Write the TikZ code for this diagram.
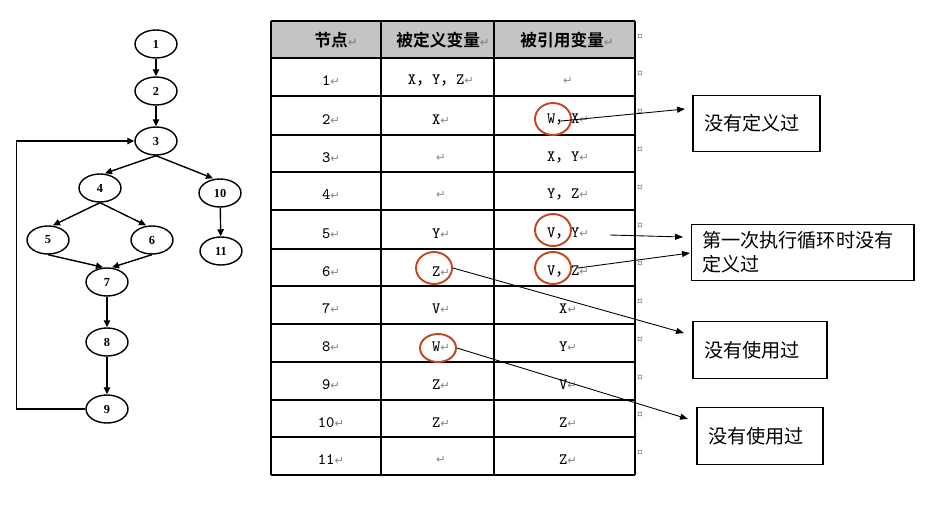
\documentclass[tikz,border=0pt]{standalone}
\usepackage{fontspec}
\setmainfont{Liberation Serif}
\newfontfamily\cjk{Noto Sans CJK SC}[BoldFont={Noto Sans CJK SC Bold}]
\newfontfamily\sym{DejaVu Sans}
\usetikzlibrary{shapes.geometric, arrows.meta, positioning}
\definecolor{markred}{HTML}{C4461E}
\definecolor{retgray}{HTML}{8A8A8A}
\definecolor{hdrgray}{HTML}{C4C4C4}
\newcommand{\parmark}{{\sym\fontsize{6.5}{8}\selectfont\textcolor{retgray}{↵}}}
\newcommand{\cm}{{\cjk ，}}
\tikzset{
  gnode/.style={ellipse, draw, line width=0.8pt, minimum width=0.84cm,
                minimum height=0.56cm, inner sep=0pt,
                font=\fontsize{7}{8}\selectfont\bfseries},
  edgeline/.style={line width=0.8pt, -{Triangle[length=4pt,width=3.6pt]}},
  grid/.style={line width=0.8pt},
  cell/.style={inner sep=0pt, font=\fontsize{9}{10}\selectfont\ttfamily},
  hcell/.style={inner sep=0pt, font=\fontsize{9.5}{11}\selectfont\cjk\bfseries},
  rowmark/.style={inner sep=0pt, text=retgray, font=\sym\fontsize{5.5}{6}\selectfont},
  marker/.style={ellipse, draw=markred, line width=1.1pt, minimum width=0.72cm,
                 minimum height=0.64cm, inner sep=0pt},
  notebox/.style={draw, line width=0.6pt, align=left, inner xsep=0.22cm,
                  minimum height=1.13cm, font=\fontsize{10.9}{13.6}\selectfont\cjk},
  callout/.style={line width=0.5pt, -{Triangle[length=4.5pt,width=3.4pt]}}
}
\begin{document}
\begin{tikzpicture}[x=0.02cm, y=-0.02cm]
  \useasboundingbox (0,0) rectangle (927,511);
  % flow graph
  \node[gnode] (g1) at (156,44) {1};
  \node[gnode] (g2) at (156,91) {2};
  \node[gnode] (g3) at (156,141) {3};
  \node[gnode] (g4) at (100,188) {4};
  \node[gnode] (g10) at (220,193) {10};
  \node[gnode] (g5) at (48,240) {5};
  \node[gnode] (g6) at (152,240) {6};
  \node[gnode] (g11) at (221,251) {11};
  \node[gnode] (g7) at (107,282) {7};
  \node[gnode] (g8) at (107,342) {8};
  \node[gnode] (g9) at (107,409) {9};
  \draw[edgeline] (g1) -- (g2);
  \draw[edgeline] (g2) -- (g3);
  \draw[edgeline] (g3.south) -- ([xshift=0.1cm]g4.north);
  \draw[edgeline] (g3.south) -- ([xshift=-0.14cm]g10.north);
  \draw[edgeline] (g4.south) -- ([xshift=0.1cm]g5.north);
  \draw[edgeline] (g4.south) -- ([xshift=-0.12cm]g6.north);
  \draw[edgeline] (g10) -- (g11);
  \draw[edgeline] (g5.south) -- ([xshift=-0.08cm]g7.north);
  \draw[edgeline] (g6.south) -- ([xshift=0.1cm]g7.north);
  \draw[edgeline] (g7) -- (g8);
  \draw[edgeline] (g8) -- (g9);
  \draw[edgeline] (g9.west) -- ++(-69,0) |- (g3.west);

  % def/use table
  \fill[hdrgray] (271,21) rectangle (635,58);
  \foreach \y in {21,58,96,135,172,210,249,286,324,362,400,437,475}
    \draw[grid] (271,\y) -- (635,\y);
  \foreach \x in {271,381,494,635}
    \draw[grid] (\x,21) -- (\x,475);
  \node[hcell] (h1) at (336,40) {节点\parmark};
  \node[hcell] (h2) at (443,40) {被定义变量\parmark};
  \node[hcell] (h3) at (567,40) {被引用变量\parmark};
  \foreach \rw/\yy/\dv/\uv in {1/81/{X\cm Y\cm Z}/{}, 2/120/X/{W\cm X},
      3/158/{}/{X\cm Y}, 4/195/{}/{Y\cm Z}, 5/234/Y/{V\cm Y}, 6/272/Z/{V\cm Z},
      7/309/V/X, 8/347/W/Y, 9/385/Z/V, 10/423/Z/Z, 11/460/{}/Z}
  {
    \node[cell] (n\rw) at (331,\yy) {\rw\parmark};
    \node[cell] (d\rw) at (441,\yy) {\dv\parmark};
    \node[cell] (u\rw) at (568,\yy) {\uv\parmark};
  }
  \foreach \y [count=\i] in {37,74,112,150,188,226,264,302,340,378,415,453}
    \node[rowmark] (m\i) at (640,\y) {¤};

  % red marks
  \node[marker] (c1) at (553,119) {};
  \node[marker] (c2) at (553,230) {};
  \node[marker] (c3) at (434,268) {};
  \node[marker] (c4) at (553,268) {};
  \node[marker, minimum height=0.56cm] (c5) at (438,348) {};

  % notes
  \node[notebox, text width=2.1cm] (b1) at (756.5,123.5) {没有定义过};
  \node[notebox, text width=4.02cm] (b2) at (802.5,252.5) {第一次执行循环时没有\\定义过};
  \node[notebox, text width=2.24cm] (b3) at (760,350) {没有使用过};
  \node[notebox, text width=2.08cm] (b4) at (760,436) {没有使用过};

  \coordinate (s1) at (561,121);
  \coordinate (t1) at (685,109);
  \coordinate (s2) at (610,235);
  \coordinate (t2) at (683,237);
  \coordinate (s3) at (578,268);
  \coordinate (t3) at (690,253);
  \coordinate (t4) at (684,333);
  \coordinate (t5) at (688,419);
  \draw[callout] (s1) -- (t1);
  \draw[callout] (s2) -- (t2);
  \draw[callout] (s3) -- (t3);
  \draw[callout] (c3.east) -- (t4);
  \draw[callout] (c5.east) -- (t5);
\end{tikzpicture}
\end{document}
